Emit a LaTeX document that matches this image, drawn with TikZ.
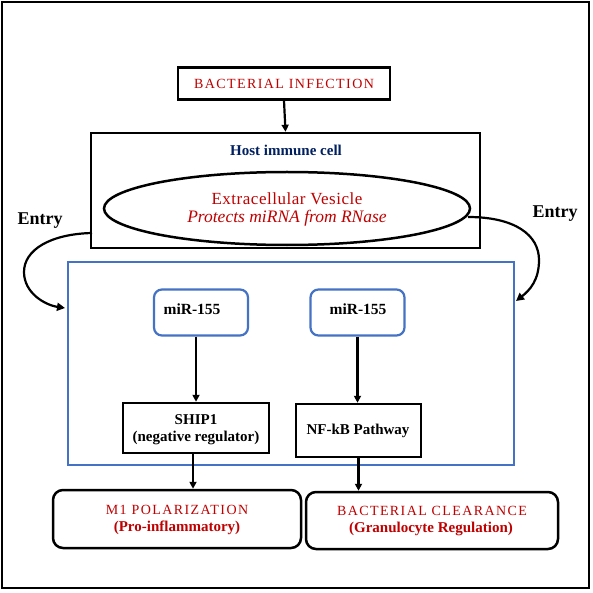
\documentclass[tikz,border=0pt]{standalone}
\usepackage{fontspec}
\setmainfont{Liberation Serif}
\newfontfamily\spacedfont[LetterSpace=10]{Liberation Serif}
\newfontfamily\evfont[LetterSpace=3]{Liberation Serif}
\usetikzlibrary{shapes.geometric,arrows.meta}
\definecolor{dred}{HTML}{C00000}
\definecolor{navy}{HTML}{002060}
\definecolor{bblue}{HTML}{4472C4}
\tikzset{
  blk/.style={draw=black,line width=2.5pt,rectangle,inner sep=0pt},
  rbox/.style={blk,rounded corners=10pt},
  mirbox/.style={draw=bblue,line width=2.2pt,rectangle,rounded corners=8pt,inner sep=0pt,minimum width=94pt,minimum height=46pt},
  arr/.style={line width=2.2pt,-{Triangle[length=7pt,width=7pt]}},
  carr/.style={line width=2.2pt,-{Triangle[length=8pt,width=8pt]}},
  lbl/.style={inner sep=0pt,align=center}
}
\newcommand{\fs}[1]{\fontsize{#1}{#1}\selectfont}
\begin{document}
\begin{tikzpicture}[x=1pt,y=-1pt]
\useasboundingbox (0,0) rectangle (592,593);
\fill[white] (0,0) rectangle (592,593);
\draw[line width=1.5pt] (2,2) rectangle (589,588);
% top
\node[blk,minimum width=212pt,minimum height=32pt] (bi) at (284,83.5) {};
\node[lbl] (bitxt) at (284,84) {\spacedfont\fs{14}\color{dred}BACTERIAL INFECTION};
\node[blk,minimum width=389pt,minimum height=115pt] (host) at (285.5,190.5) {};
\node[lbl] (hosttxt) at (286,150) {\fs{15}\bfseries\color{navy}Host immune cell};
\node[draw,line width=2.5pt,ellipse,inner sep=0pt,minimum width=366pt,minimum height=73pt] (ev) at (287,208.5) {};
\node[lbl] (evt1) at (287,199) {\evfont\fs{17}\color{dred}Extracellular Vesicle};
\node[lbl] (evt2) at (287,218) {\fs{17.5}\itshape\color{dred}Protects miRNA from RNase};
\draw[arr] (bi.south) -- (host.north);
% entry labels
\node[lbl] (entryL) at (40,221) {\fs{18}\bfseries Entry};
\node[lbl] (entryR) at (555,214) {\fs{18}\bfseries Entry};
% blue box
\node[draw=bblue,line width=2.2pt,rectangle,inner sep=0pt,minimum width=446pt,minimum height=203pt] (blue) at (291,363.5) {};
\coordinate (ls) at (92,233);
\coordinate (lm) at (24,272);
\coordinate (le) at (65,308);
\coordinate (rs) at (468,217);
\coordinate (rm) at (539,260);
\coordinate (re) at (516,301);
\draw[carr] (ls) .. controls (50,234) and (24,250) .. (lm) .. controls (24,293) and (45,305) .. (le);
\draw[carr] (rs) .. controls (515,217) and (539,235) .. (rm) .. controls (539,280) and (530,290) .. (re);
% miR boxes
\node[mirbox] (mirL) at (201,312.5) {};
\node[lbl] (mirLt) at (192,309) {\fs{15.5}\bfseries miR-155};
\node[mirbox] (mirR) at (357.5,312.5) {};
\node[lbl] (mirRt) at (358,309) {\fs{15.5}\bfseries miR-155};
\node[blk,minimum width=146pt,minimum height=50pt] (ship) at (196,428) {};
\node[lbl] (shipt1) at (196,420) {\fs{15}\bfseries SHIP1};
\node[lbl] (shipt2) at (196,438) {\fs{15}\bfseries (negative regulator)};
\node[blk,minimum width=125pt,minimum height=53pt] (nfkb) at (358.5,430.5) {};
\node[lbl] (nfkbt) at (358,431) {\fs{15}\bfseries NF-kB Pathway};
\draw[arr] (mirL.south -| ship.north) -- (ship.north);
\draw[arr] (mirR.south) -- (mirR.south |- nfkb.north);
% outcomes
\node[rbox,minimum width=248pt,minimum height=58pt] (m1) at (177,519) {};
\node[lbl] (m1t1) at (177,510) {\spacedfont\fs{14}\color{dred}M1 POLARIZATION};
\node[lbl] (m1t2) at (177,528) {\fs{15}\bfseries\color{dred}(Pro-inflammatory)};
\node[rbox,minimum width=252pt,minimum height=57pt] (bc) at (432,520.5) {};
\node[lbl] (bct1) at (432,511) {\spacedfont\fs{14}\color{dred}BACTERIAL CLEARANCE};
\node[lbl] (bct2) at (431,529) {\fs{15}\bfseries\color{dred}(Granulocyte Regulation)};
\draw[arr] (193,0 |- ship.south) -- (193,0 |- m1.north);
\draw[arr] (nfkb.south) -- (nfkb.south |- bc.north);
\end{tikzpicture}
\end{document}
